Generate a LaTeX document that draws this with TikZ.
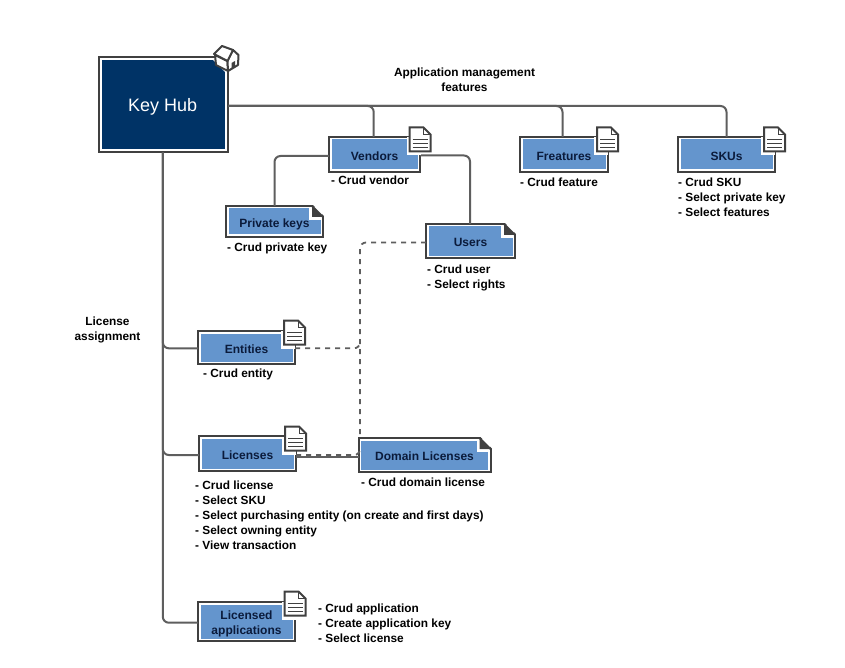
\documentclass[tikz,border=0pt]{standalone}
\usepackage{fontspec}
\setmainfont{Liberation Sans}
\usetikzlibrary{calc}
\definecolor{navy}{HTML}{003366}
\definecolor{boxblue}{HTML}{6495CD}
\definecolor{edge}{HTML}{404040}
\definecolor{wire}{HTML}{5E5E5E}
\definecolor{boxtext}{HTML}{0B1B3B}
\tikzset{
  boxbase/.style={draw=edge,line width=2pt,fill=white,inner sep=0pt,outer sep=0pt,align=center,
    font=\fontsize{12}{15}\selectfont\bfseries,text=boxtext},
  bluebox/.style={boxbase,path picture={\fill[boxblue]
    ([xshift=2.5pt,yshift=-2.5pt]path picture bounding box.north west) rectangle
    ([xshift=-2.5pt,yshift=2.5pt]path picture bounding box.south east);}},
  hubbox/.style={boxbase,font=\fontsize{18}{20}\selectfont,text=white,path picture={\fill[navy]
    ([xshift=3pt,yshift=-3pt]path picture bounding box.north west) rectangle
    ([xshift=-3pt,yshift=3pt]path picture bounding box.south east);}},
  wireline/.style={draw=wire,line width=2pt,rounded corners=6pt},
  dashline/.style={draw=wire,line width=1.8pt,rounded corners=6pt,dash pattern=on 5pt off 5pt},
  note/.style={anchor=west,align=left,inner sep=0pt,font=\fontsize{11.85}{15}\selectfont\bfseries,text=black},
  title/.style={align=center,inner sep=0pt,font=\fontsize{11.85}{15}\selectfont\bfseries,text=black},
  iconline/.style={draw=edge,line width=2pt,line join=miter},
}
\newcommand{\mybox}[6]{\node[bluebox,minimum width=#4pt,minimum height=#5pt] (#1) at (#2,#3) {\raisebox{-5.8pt}[0pt][0pt]{#6}};}
\newcommand{\foldmark}[1]{%
  \fill[white] ($(#1.north east)+(-14pt,-2pt)$) -- ($(#1.north east)+(-2pt,-2pt)$) -- ($(#1.north east)+(-2pt,-14pt)$) -- ($(#1.north east)+(-14pt,-14pt)$) -- cycle;
  \fill[edge] ($(#1.north east)+(-11pt,0pt)$) -- ($(#1.north east)+(0pt,-11pt)$) -- ($(#1.north east)+(-11pt,-11pt)$) -- cycle;
  \fill[white] ($(#1.north east)+(-11pt,2pt)$) -- ($(#1.north east)+(2pt,2pt)$) -- ($(#1.north east)+(2pt,-11pt)$) -- cycle;
  \draw[edge,line width=2pt] ($(#1.north east)+(-11pt,0pt)$) -- ($(#1.north east)+(0pt,-11pt)$);
}
% x,y = top left of the document icon
\newcommand{\docicon}[2]{%
  \begin{scope}[shift={(#1,#2)}]
    \fill[white] (-3,10) rectangle (11,28);
    \draw[iconline,fill=white] (0,0) -- (14,0) -- (21,7) -- (21,24) -- (0,24) -- cycle;
    \draw[iconline,line width=1pt] (14,0) -- (14,7) -- (21,7);
    \draw[iconline,line width=1.6pt] (3,12) -- (18,12) (3,16) -- (18,16) (3,20) -- (18,20);
  \end{scope}}
\begin{document}
\begin{tikzpicture}[x=1pt,y=-1pt]
\useasboundingbox (0,0) rectangle (845,668);
\fill[white] (0,0) rectangle (845,668);

% boxes
\node[hubbox,minimum width=129pt,minimum height=95pt] (hub) at (163.5,105) {\hspace*{-1.5pt}\raisebox{-7pt}[0pt][0pt]{Key Hub}};
\mybox{vendors}{374.5}{154.5}{91}{35}{Vendors}
\mybox{features}{564}{154.5}{88}{35}{Freatures}
\mybox{skus}{726.5}{154.5}{97}{35}{SKUs}
\mybox{privkeys}{274.5}{221.5}{97}{31}{Private keys}
\mybox{users}{470.5}{241}{89}{34}{Users}
\mybox{entities}{246.5}{347.5}{97}{33}{Entities}
\mybox{licenses}{247.5}{453.5}{97}{35}{Licenses}
\mybox{domain}{424.5}{455}{132}{34}{Domain Licenses}
\node[bluebox,minimum width=97pt,minimum height=39pt] (apps) at (246.5,621.5) {\raisebox{-13.3pt}[0pt][0pt]{\begin{tabular}[b]{@{}c@{}}Licensed\\applications\end{tabular}}};
\foldmark{privkeys}
\foldmark{users}
\foldmark{domain}

% helper points
\coordinate (hubE) at ([yshift=-1pt]hub.east);
\coordinate (hubS) at ([xshift=-0.7pt]hub.south);
\coordinate (venN) at ([xshift=-0.8pt]vendors.north);
\coordinate (feaN) at ([xshift=-1.5pt]features.north);
\coordinate (venW) at ([yshift=-1.5pt]vendors.west);
\coordinate (venE) at ([yshift=-1pt]vendors.east);
\coordinate (useW) at ([yshift=-1.5pt]users.west);
\coordinate (entW) at ([yshift=-0.8pt]entities.west);
\coordinate (entE) at ([yshift=-0.8pt]entities.east);
\coordinate (licW) at ([yshift=-1.5pt]licenses.west);
\coordinate (licE) at ([yshift=-1.5pt]licenses.east);
\coordinate (domW) at ([yshift=-1.7pt]domain.west);
\coordinate (appW) at ([yshift=-1.2pt]apps.west);
\coordinate (dashTop) at (360,438);
\coordinate (dashMid) at (360,340);
\coordinate (dashJoin) at (360,447);

% connectors
\draw[wireline] (hubE) -| (venN);
\draw[wireline] (hubE) -| (feaN);
\draw[wireline] (hubE) -| (skus.north);
\draw[wireline] (venW) -| (privkeys.north);
\draw[wireline] (venE) -| ([xshift=-0.5pt]users.north);
\draw[wireline] (hubS) |- (entW);
\draw[wireline] (hubS) |- (licW);
\draw[wireline] (hubS) |- (appW);
\draw[wireline] (licenses.east |- domW) -- (domW);
\draw[dashline] (useW) -| (dashTop);
\draw[dashline] (entE) -| (dashMid);
\draw[dashline] (licE) -| (dashJoin);

% icons
\docicon{409.5}{127.5}
\docicon{597}{127.5}
\docicon{764}{127.5}
\docicon{284}{320.5}
\docicon{285}{426.5}
\docicon{284.5}{591.5}

% house on the hub
\fill[white] (212,59) -- (226,59) -- (226,73) -- cycle;
\begin{scope}
  \draw[iconline,fill=white,line join=round] (215,55) -- (227.5,61) -- (228,71) -- (216,65) -- cycle;
  \draw[iconline,fill=white,line join=round] (227.5,61) -- (233,50) -- (238.5,55) -- (238,65) -- (228,71) -- cycle;
  \draw[iconline,fill=white,line join=round] (214,54) -- (222,46) -- (233,50) -- (227.5,61) -- cycle;
  \fill[edge] (231.5,63) -- (235,61) -- (235,66.5) -- (231.5,68.5) -- cycle;
\end{scope}

% texts
\node[title] (t1) at (464.5,79.5) {Application management\\features};
\node[title] (t2) at (107.5,329.5) {License\\assignment};
\node[note] (n1) at (331,180) {- Crud vendor};
\node[note] (n2) at (520,182) {- Crud feature};
\node[note] (n3) at (678,197) {- Crud SKU\\- Select private key\\- Select features};
\node[note] (n4) at (227,248) {- Crud private key};
\node[note] (n5) at (427,277.5) {- Crud user\\- Select rights};
\node[note] (n6) at (203,374) {- Crud entity};
\node[note] (n7) at (361,482) {- Crud domain license};
\node[note] (n8) at (195,515) {- Crud license\\- Select SKU\\- Select purchasing entity (on create and first days)\\- Select owning entity\\- View transaction};
\node[note] (n9) at (318,623) {- Crud application\\- Create application key\\- Select license};
\end{tikzpicture}
\end{document}
